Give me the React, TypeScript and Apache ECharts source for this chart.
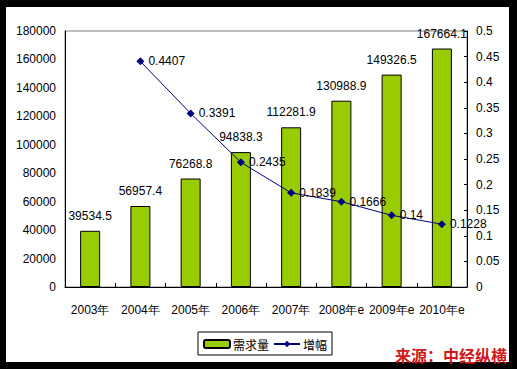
import React, { useEffect, useRef } from "react";
import * as echarts from "echarts";

const categories = ["2003年", "2004年", "2005年", "2006年", "2007年", "2008年e", "2009年e", "2010年e"];
const demand = [39534.5, 56957.4, 76268.8, 94838.3, 112281.9, 130988.9, 149326.5, 167664.1];
const growth: (number | null)[] = [null, 0.4407, 0.3391, 0.2435, 0.1839, 0.1666, 0.14, 0.1228];

const FONT = "'Liberation Sans', Arial, sans-serif";

export default function App() {
  const ref = useRef<HTMLDivElement>(null);
  useEffect(() => {
    if (!ref.current) return;
    const chart = echarts.init(ref.current, null, { renderer: "svg" });
    chart.setOption({
      animation: false,
      backgroundColor: "#000000",
      textStyle: { fontFamily: FONT },
      graphic: [
        {
          type: "rect",
          z: -10,
          silent: true,
          shape: { x: 6, y: 7, width: 503, height: 355 },
          style: { fill: "#ffffff" },
        },
        {
          type: "text",
          left: 395,
          top: 347,
          z: 100,
          style: {
            text: "来源：中经纵横",
            fill: "#d01818",
            font: "bold 16px 'Noto Sans CJK SC', sans-serif",
            textShadowColor: "rgba(90,90,90,0.8)",
            textShadowOffsetX: 1,
            textShadowOffsetY: 1,
            textShadowBlur: 0,
          },
        },
      ],
      grid: {
        left: 65,
        top: 31,
        width: 402,
        height: 256,
        show: true,
        borderColor: "#808080",
        borderWidth: 1,
        backgroundColor: "transparent",
      },
      legend: {
        left: 198,
        top: 332,
        padding: [6, 5, 5, 5],
        itemGap: 4,
        itemWidth: 26,
        itemHeight: 8,
        borderColor: "#000",
        borderWidth: 1,
        backgroundColor: "#fff",
        textStyle: { fontSize: 12, color: "#000", fontFamily: "'Noto Sans CJK SC', sans-serif", padding: [0, 0, 0, -2] },
        data: ["需求量", "增幅"],
      },
      xAxis: {
        type: "category",
        data: categories,
        axisLine: { lineStyle: { color: "#000", width: 1 } },
        axisTick: { show: true, inside: true, length: 4, lineStyle: { color: "#000" } },
        axisLabel: { color: "#000", fontSize: 12, margin: 17, interval: 0, fontFamily: FONT },
      },
      yAxis: [
        {
          type: "value",
          min: 0,
          max: 180000,
          interval: 20000,
          axisLine: { show: true, lineStyle: { color: "#000" } },
          axisTick: { show: false },
          splitLine: { show: false },
          axisLabel: { color: "#000", fontSize: 12, margin: 9, fontFamily: FONT, formatter: (v: number) => String(v) },
        },
        {
          type: "value",
          min: 0,
          max: 0.5,
          interval: 0.05,
          position: "right",
          axisLine: { show: true, lineStyle: { color: "#000" } },
          axisTick: { show: true, inside: true, length: 3, lineStyle: { color: "#000" } },
          splitLine: { show: false },
          axisLabel: { color: "#000", fontSize: 12, margin: 9, fontFamily: FONT, formatter: (v: number) => String(+v.toFixed(2)) },
        },
      ],
      series: [
        {
          name: "需求量",
          type: "bar",
          data: demand,
          barWidth: 20,
          itemStyle: { color: "#99cc00", borderColor: "#000", borderWidth: 1 },
          label: {
            show: true,
            position: "top",
            distance: 9,
            color: "#000",
            fontSize: 12,
            fontFamily: FONT,
          },
        },
        {
          name: "增幅",
          type: "line",
          yAxisIndex: 1,
          data: growth,
          symbol: "diamond",
          symbolSize: 8,
          color: "#000080",
          lineStyle: { color: "#000080", width: 1 },
          itemStyle: { color: "#000080" },
          label: {
            show: true,
            position: "right",
            distance: 4,
            color: "#000",
            fontSize: 12,
            fontFamily: FONT,
          },
          z: 5,
        },
      ],
    });
    return () => chart.dispose();
  }, []);
  return (
    <div
      ref={ref}
      style={{ position: "fixed", left: 0, top: 0, width: 517, height: 369 }}
    />
  );
}
